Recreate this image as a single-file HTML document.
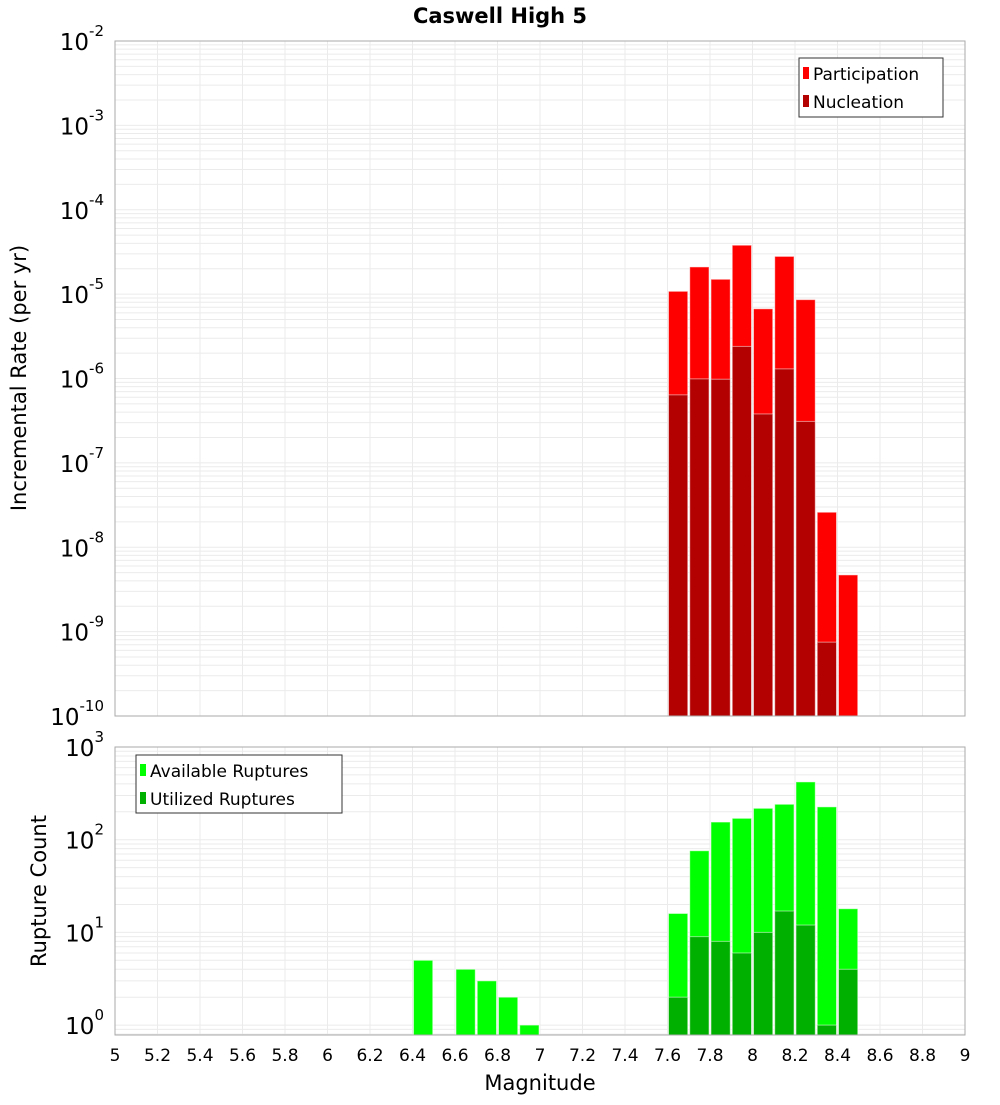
<!DOCTYPE html>
<html><head><meta charset="utf-8"><style>
body{margin:0;background:#fff;}
svg text{font-family:"DejaVu Sans","Liberation Sans",sans-serif;}
</style></head><body>
<svg id="c" width="1000" height="1100" xmlns="http://www.w3.org/2000/svg">
<text x="500" y="23" text-anchor="middle" font-size="21" font-weight="bold">Caswell High 5</text>
<g id="topPlot"></g>
<g id="botPlot"></g>
<text transform="translate(26,378) rotate(-90)" text-anchor="middle" font-size="21">Incremental Rate (per yr)</text>
<text transform="translate(46,891) rotate(-90)" text-anchor="middle" font-size="21">Rupture Count</text>
<text x="540" y="1090" text-anchor="middle" font-size="21">Magnitude</text>
<g>
<rect x="799" y="58" width="144" height="59" fill="#fff" stroke="#333"/>
<rect x="803" y="67" width="6" height="12" fill="#ff0000"/>
<text x="813" y="80" font-size="17">Participation</text>
<rect x="803" y="95" width="6" height="12" fill="#b30000"/>
<text x="813" y="108" font-size="17">Nucleation</text>
</g>
<g>
<rect x="136" y="755" width="206" height="58" fill="#fff" stroke="#333"/>
<rect x="140" y="764" width="6" height="12" fill="#00ff00"/>
<text x="150" y="777" font-size="17">Available Ruptures</text>
<rect x="140" y="792" width="6" height="12" fill="#00b000"/>
<text x="150" y="805" font-size="17">Utilized Ruptures</text>
</g>
</svg>
<script>
const mags=[6.45,6.55,6.65,6.75,6.85,6.95,7.65,7.75,7.85,7.95,8.05,8.15,8.25,8.35,8.45];
const participation=[0,0,0,0,0,0,1.08e-5,2.1e-5,1.5e-5,3.8e-5,6.7e-6,2.8e-5,8.6e-6,2.6e-8,4.7e-9];
const nucleation=[0,0,0,0,0,0,6.4e-7,9.9e-7,9.8e-7,2.4e-6,3.8e-7,1.3e-6,3.1e-7,7.5e-10,0];
const available=[5,0,4,3,2,1,16,76,155,170,218,241,420,226,18];
const utilized=[0,0,0,0,0,0,2,9,8,6,10,17,12,1,4];
const xTicks=[5,5.2,5.4,5.6,5.8,6,6.2,6.4,6.6,6.8,7,7.2,7.4,7.6,7.8,8,8.2,8.4,8.6,8.8,9];
const topExps=[-2,-3,-4,-5,-6,-7,-8,-9,-10];
const botExps=[3,2,1,0];
const NS="http://www.w3.org/2000/svg";
const X0=115,X1=965;
const xs=m=>X0+(m-5)/4*(X1-X0);
const TT=41,TB=716;
const yT=v=>TT+(-2-Math.log10(v))*84.375;
const BT=747,BB=1035;
const yB=v=>BT+(3-Math.log10(v))*92.7;
function el(p,t,a){const e=document.createElementNS(NS,t);for(const k in a)e.setAttribute(k,a[k]);p.appendChild(e);return e;}
function grid(g,t0,b0,yf,decs){
  decs.forEach(d=>{for(let i=1;i<10;i++){const y=yf(i*Math.pow(10,d));if(y>=t0&&y<=b0){const l=el(g,'line',{x1:X0,x2:X1,y1:y,y2:y,stroke:'#ebebeb','stroke-width':1});
  
  }}});
  xTicks.forEach(t=>{const l=el(g,'line',{x1:xs(t),x2:xs(t),y1:t0,y2:b0,stroke:'#ebebeb'});
  
  });
}
function bars(g,vals,yf,b0,fill,name){
  vals.forEach((v,i)=>{if(v<=0)return;const xl=xs(mags[i]-0.05)+1,xr=xs(mags[i]+0.05)-1;const y=Math.max(yf(v),0);
  const r=el(g,'rect',{x:xl,y:y,width:xr-xl,height:b0-y,fill:fill,stroke:'#ffffff','stroke-opacity':0.5,'stroke-width':1});
  
  });
}
function ylabels(g,exps,yf){
  exps.forEach(e=>{const y=yf(Math.pow(10,e));const t=el(g,'text',{x:104,y:y+9,'text-anchor':'end','font-size':23});
  
  
  t.textContent='10';const s=el(t,'tspan',{dy:-14,'font-size':15});s.textContent=String(e);});
}
const gTop=document.getElementById('topPlot'),gBot=document.getElementById('botPlot');
grid(gTop,TT,TB,yT,[-10,-9,-8,-7,-6,-5,-4,-3]);
bars(gTop,participation,yT,TB,'#ff0000','participation-bar');
bars(gTop,nucleation,yT,TB,'#b30000','nucleation-bar');
el(gTop,'rect',{x:X0,y:TT,width:X1-X0,height:TB-TT,fill:'none',stroke:'#aaa'});
ylabels(gTop,topExps,yT);
grid(gBot,BT,BB,yB,[-1,0,1,2]);
bars(gBot,available,yB,BB,'#00ff00','available-bar');
bars(gBot,utilized,yB,BB,'#00b000','utilized-bar');
el(gBot,'rect',{x:X0,y:BT,width:X1-X0,height:BB-BT,fill:'none',stroke:'#aaa'});
ylabels(gBot,botExps,yB);
xTicks.forEach(t=>{const tx=el(gBot,'text',{x:xs(t),y:1061,'text-anchor':'middle','font-size':17});


tx.textContent=String(t);});
</script>
</body></html>
